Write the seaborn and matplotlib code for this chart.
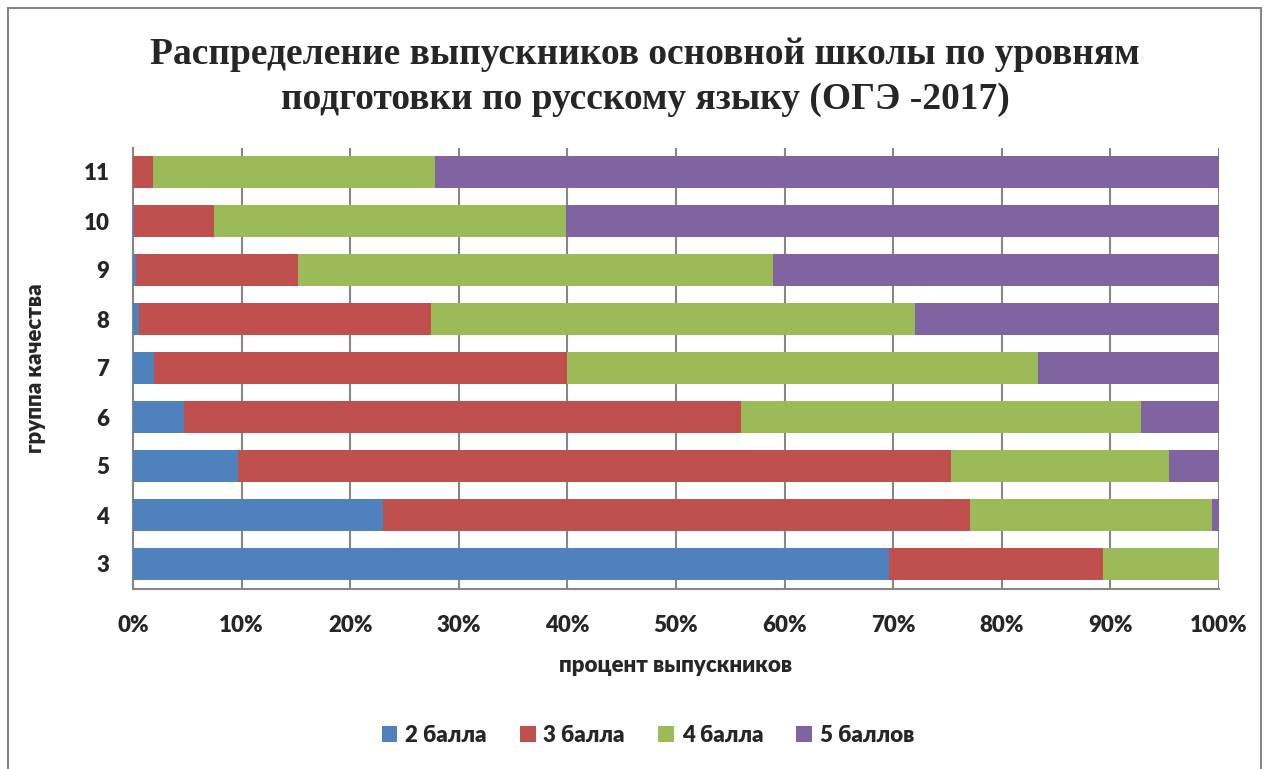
import numpy as np
import pandas as pd
import matplotlib
matplotlib.use("Agg")
import matplotlib.pyplot as plt
from matplotlib.patches import Rectangle, Patch
import seaborn as sns

# данные (проценты)
groups = ["11", "10", "9", "8", "7", "6", "5", "4", "3"]
ball2 = [0.0, 0.1, 0.3, 0.55, 1.9, 4.7, 9.7, 23.0, 69.6]
ball3 = [1.8, 7.35, 14.9, 26.85, 38.1, 51.3, 65.6, 54.1, 19.7]
ball4 = [26.0, 32.45, 43.7, 44.6, 43.3, 36.8, 20.1, 22.3, 10.7]
ball5 = [72.2, 60.1, 41.1, 28.0, 16.7, 7.2, 4.6, 0.6, 0.0]
series_names = ["2 балла", "3 балла", "4 балла", "5 баллов"]
colors = ["#4F81BD", "#C0504D", "#9BBB59", "#8064A2"]
x_ticks = [0, 10, 20, 30, 40, 50, 60, 70, 80, 90, 100]

sns.set_theme(style="white")
plt.rcParams["font.family"] = ["Lato", "DejaVu Sans"]

df = pd.DataFrame({"group": groups, "2": ball2, "3": ball3, "4": ball4, "5": ball5})
cum = df[["2", "3", "4", "5"]].cumsum(axis=1)

W, H = 1269, 769
fig = plt.figure(figsize=(W / 100, H / 100), dpi=100)
ax = fig.add_axes([133 / W, 1 - 588.5 / H, (1219 - 133) / W, 441 / H])

# накопленные суммы рисуем от большей к меньшей, чтобы получить стек
for col, color in zip(["5", "4", "3", "2"], colors[::-1]):
    sns.barplot(x=cum[col], y=df["group"], order=groups, orient="h",
                color=color, width=0.65, saturation=1, ax=ax, zorder=3,
                edgecolor="none")

fs = 16
wt = "heavy"
ax.set_xlim(0, 100)
ax.set_xticks(x_ticks)
ax.set_xticklabels([f"{t}%" for t in x_ticks], fontsize=fs, fontweight=wt)
ax.set_yticks(range(len(groups)))
ax.set_yticklabels(groups, fontsize=fs, fontweight=wt)
ax.set_yticks(np.arange(-0.5, len(groups), 1), minor=True)
ax.tick_params(axis="y", which="major", length=0, pad=17)
ax.tick_params(axis="y", which="minor", length=5, color="#868686", width=1.5, direction="out")
ax.tick_params(axis="x", which="major", length=5, color="#868686", width=1.5, direction="out", pad=14)
ax.set_ylim(len(groups) - 0.5, -0.5)

ax.grid(axis="x", color="#868686", linewidth=1.5, zorder=0)
ax.set_axisbelow(True)
for side in ["top", "right"]:
    ax.spines[side].set_visible(False)
for side in ["left", "bottom"]:
    ax.spines[side].set_color("#868686")
    ax.spines[side].set_linewidth(1.5)

ax.set_xlabel("процент выпускников", fontsize=fs, fontweight=wt, labelpad=14)
ax.set_ylabel("группа качества", fontsize=fs, fontweight=wt, labelpad=27)

fig.text(645 / W, 1 - 77 / H,
         "Распределение выпускников основной школы по уровням\nподготовки по русскому языку (ОГЭ -2017)",
         ha="center", va="center", fontsize=27, fontweight="bold",
         family=["Liberation Serif", "DejaVu Serif"], linespacing=1.35)

handles = [Patch(facecolor=c, edgecolor="none") for c in colors]
fig.legend(handles, series_names, loc="center", bbox_to_anchor=(648 / W, 1 - 735 / H),
           ncol=4, frameon=False, handlelength=0.7, handleheight=0.7,
           handletextpad=0.35, columnspacing=1.5,
           prop={"size": fs, "weight": wt})

# рамка вокруг диаграммы
fig.patches.append(Rectangle((8 / W, -0.05), (1261 - 8) / W, 1.05 - 8 / H,
                             transform=fig.transFigure, fill=False,
                             edgecolor="#868686", linewidth=1.5))

plt.savefig("out.png", dpi=100)
plt.close()
